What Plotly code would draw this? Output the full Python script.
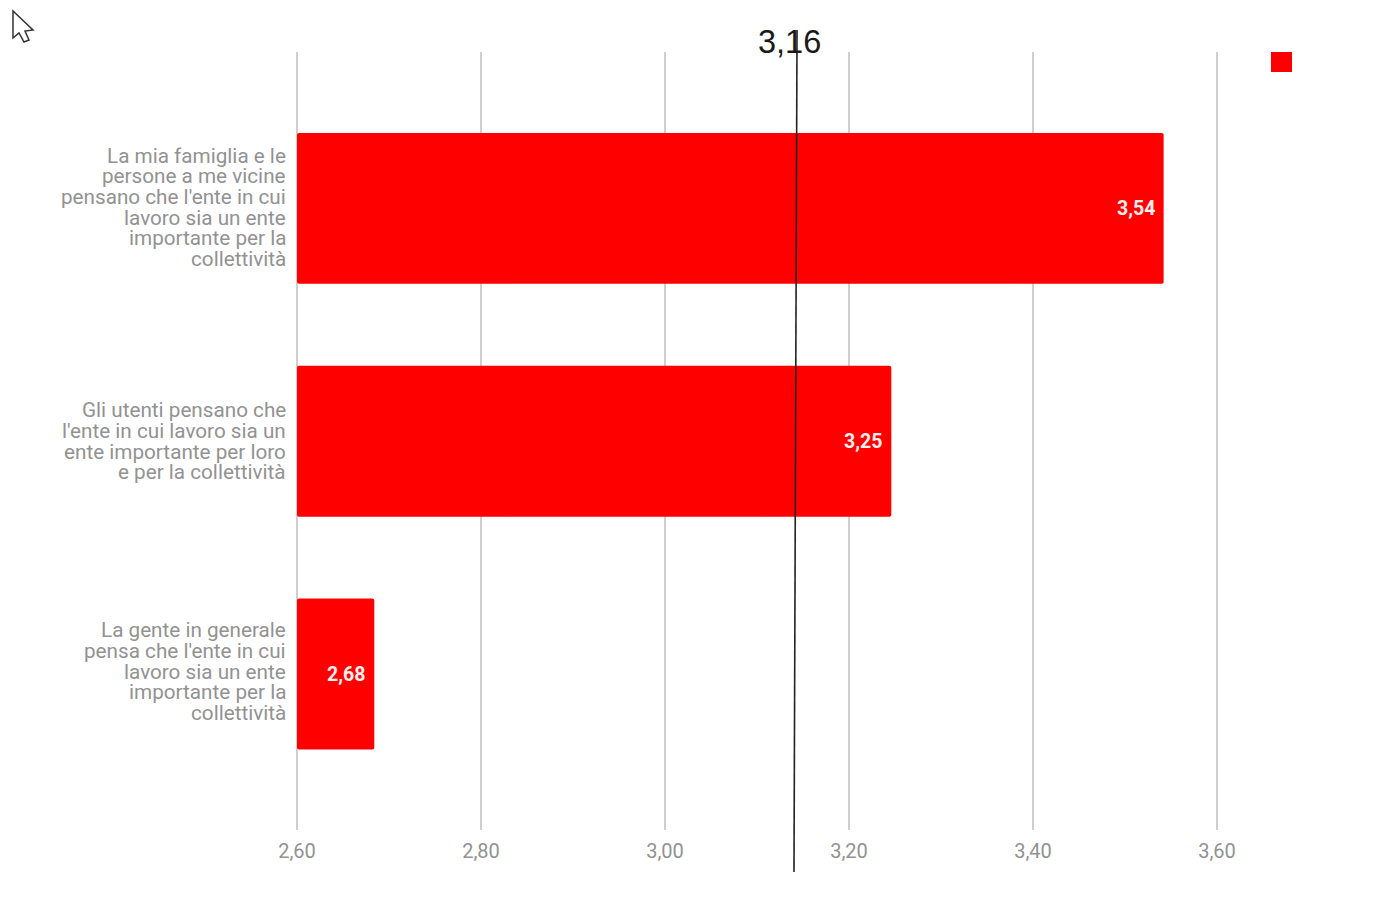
import plotly.graph_objects as go

categories = [
    ["La mia famiglia e le", "persone a me vicine", "pensano che l'ente in cui", "lavoro sia un ente", "importante per la", "collettività"],
    ["Gli utenti pensano che", "l'ente in cui lavoro sia un", "ente importante per loro", "e per la collettività"],
    ["La gente in generale", "pensa che l'ente in cui", "lavoro sia un ente", "importante per la", "collettività"],
]
values = [3.542, 3.246, 2.684]
labels = ["3,54", "3,25", "2,68"]
x_ticks = [2.6, 2.8, 3.0, 3.2, 3.4, 3.6]
reference_label = "3,16"
AXIS_START = 2.6
RED = "#ff0000"
OFF = 8  # default page margin of the written html
W, H = 1378 - 2 * OFF, 905 - 2 * OFF
PAD = 4  # plot area reaches a little past the end ticks so their gridlines are drawn
L, R, T, B = 297 - PAD, 1217 + PAD, 52, 830
LINE_H = 20.7
GROUP_SHIFT = [1, 0, 2.5]

def px(v): return (v - L) / (R - L)
def py(v): return 1 - (v - T) / (B - T)

cat_ids = ["c0", "c1", "c2"]
fig = go.Figure(go.Bar(
    y=cat_ids, x=[v - AXIS_START for v in values], base=AXIS_START, orientation="h", width=0.648,
    marker=dict(color=RED, cornerradius=2, line=dict(width=0)),
    textposition="none", hoverinfo="skip", showlegend=False,
))

anns = []
for i, lines in enumerate(categories):
    n = len(lines)
    for j, t in enumerate(lines):
        anns.append(dict(x=AXIS_START, y=cat_ids[i], xref="x", yref="y", text=t, showarrow=False,
                         xanchor="right", yanchor="middle", xshift=-9,
                         yshift=GROUP_SHIFT[i] - (j - (n - 1) / 2) * LINE_H,
                         font=dict(family="Roboto", size=20.7, color="#929292")))
    anns.append(dict(x=values[i], y=cat_ids[i], xref="x", yref="y", text=labels[i], showarrow=False,
                     xanchor="right", yanchor="middle", xshift=-7,
                     font=dict(family="Roboto", size=19.5, color="#fff0ee", weight=700)))
anns.append(dict(x=3.135, y=py(42), xref="x", yref="paper", text=reference_label, showarrow=False,
                 xanchor="center", yanchor="middle",
                 font=dict(family="Liberation Sans", size=32.5, color="#1a1a1a")))

cursor = [(13, 11), (13, 38), (19, 33), (24, 42), (29, 40), (25, 31), (33, 30)]
cursor_path = "M " + " L ".join(f"{px(x):.5f} {py(y):.5f}" for x, y in cursor) + " Z"
shapes = [
    dict(type="line", xref="x", yref="paper", x0=3.1435, x1=3.1402, y0=py(30), y1=py(872),
         line=dict(color="#222222", width=1.6), layer="above"),
    dict(type="rect", xref="paper", yref="paper", x0=px(1271), x1=px(1292), y0=py(52), y1=py(72),
         fillcolor=RED, line=dict(width=0), layer="above"),
    dict(type="path", xref="paper", yref="paper", path=cursor_path, fillcolor="white",
         line=dict(color="#333333", width=1.5), layer="above"),
]
fig.update_layout(
    width=W, height=H, paper_bgcolor="white", plot_bgcolor="white",
    margin=dict(l=L - OFF, r=W + OFF - R, t=T - OFF, b=H + OFF - B, pad=0),
    separators=",.",
    showlegend=False, bargap=0.352,
    xaxis=dict(range=[2.6 - PAD / 920, 3.6 + PAD / 920], tickvals=x_ticks, tickformat=".2f", showgrid=True,
               gridcolor="#cfcfcf", gridwidth=1.5, zeroline=False, showline=False, ticks="",
               ticklabelstandoff=7, tickfont=dict(family="Roboto", size=20, color="#929292")),
    yaxis=dict(type="category", categoryorder="array", categoryarray=cat_ids, range=[2.67, -0.672],
               showticklabels=False, showgrid=False, zeroline=False, showline=False, ticks=""),
    annotations=anns, shapes=shapes,
)
fig.write_html("out.html")
